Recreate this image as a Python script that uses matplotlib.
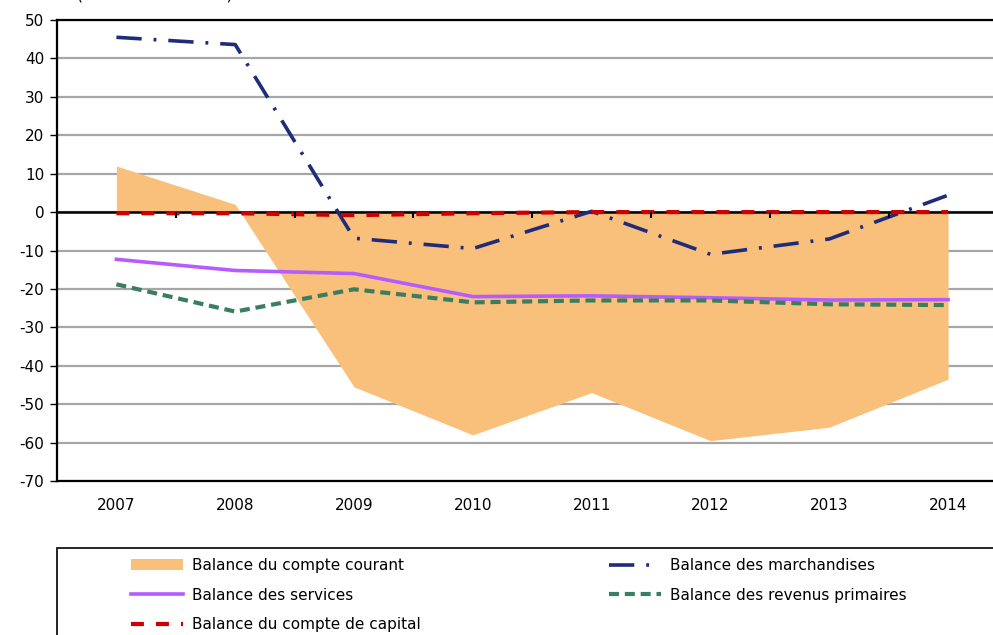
import matplotlib
matplotlib.use("Agg")
import matplotlib.pyplot as plt
from matplotlib.patches import Rectangle

plt.rcParams['font.family'] = ['DejaVu Sans']
plt.rcParams['axes.unicode_minus'] = False

# données
annees = ['2007', '2008', '2009', '2010', '2011', '2012', '2013', '2014']
compte_courant = [12.0, 2.0, -45.5, -58.0, -47.0, -59.5, -56.0, -43.5]
marchandises = [45.5, 43.6, -6.8, -9.5, 0.2, -11.0, -7.0, 4.4]
services = [-12.3, -15.2, -16.0, -22.0, -21.8, -22.3, -22.9, -22.8]
revenus_primaires = [-18.8, -25.9, -20.1, -23.5, -23.0, -23.0, -24.0, -24.2]
compte_capital = [-0.3, -0.3, -0.8, -0.3, 0.0, 0.0, 0.0, 0.0]
y_ticks = list(range(-70, 51, 10))

x = list(range(len(annees)))

fig = plt.figure(figsize=(9.93, 6.35), dpi=100)
ax = fig.add_axes([57/993, 1-481/635, (1007.5-57)/993, (481-20)/635])

ax.fill_between(x, compte_courant, 0, color='#F9C07C', linewidth=0, zorder=2,
                label='Balance du compte courant')
ax.plot(x, marchandises, color='#1F2C78', lw=2.6, dashes=(7, 3.3, 0.8, 3.3),
        zorder=5, label='Balance des marchandises')
ax.plot(x, services, color='#B65BFF', lw=2.6, zorder=4,
        label='Balance des services')
ax.plot(x, revenus_primaires, color='#3A7D5F', lw=3, dashes=(2.4, 1.4),
        zorder=4, label='Balance des revenus primaires')
ax.plot(x, compte_capital, color='#CC0000', lw=3, dashes=(3.1, 2.9),
        zorder=6, label='Balance du compte de capital')

ax.set_xlim(-0.5, len(annees) - 0.5)
ax.set_ylim(-70, 50)
ax.set_yticks(y_ticks)
ax.set_yticklabels([str(v) for v in y_ticks])
ax.set_xticks(x)
ax.set_xticklabels(annees)
ax.tick_params(axis='x', length=0, pad=12, labelsize=11)
ax.tick_params(axis='y', length=5, width=1, direction='out', pad=4, labelsize=11)

ax.yaxis.grid(True, color='#A6A6A6', lw=1.6, zorder=1)
ax.set_axisbelow(True)
for s in ['left', 'bottom', 'top']:
    ax.spines[s].set_color('black')
    ax.spines[s].set_linewidth(1.6)
ax.spines['right'].set_visible(False)

# axe des catégories sur la ligne zéro
ax.axhline(0, color='black', lw=1.8, zorder=3)
ymin, ymax = ax.get_ylim()
sec = ax.secondary_xaxis((0 - ymin) / (ymax - ymin))
sec.set_zorder(7)
sec.set_xticks([i + 0.5 for i in x[:-1]], labels=[])
sec.tick_params(axis='x', direction='in', length=4, width=1.5, color='black')
for s in sec.spines.values():
    s.set_visible(False)

# titre (coupé en haut comme sur l'original)
fig.text(77/993, 1.0, '(Milliards de dollars)', fontsize=11,
         va='baseline', ha='left')

# légende
fig.patches.append(Rectangle((57/993, -0.1), 1.0, 0.1 + 1 - 548/635,
                             transform=fig.transFigure, fill=False,
                             edgecolor='black', lw=1.2))
h_all, lab_all = ax.get_legend_handles_labels()
d = dict(zip(lab_all, h_all))
noms = ['Balance du compte courant', 'Balance des services',
        'Balance du compte de capital', 'Balance des marchandises',
        'Balance des revenus primaires']
fig.legend([d[n] for n in noms], noms, ncol=2, frameon=False,
           loc='upper left', bbox_to_anchor=(125/993, 1 - 552/635),
           fontsize=11, handlelength=3.4, handletextpad=0.6,
           labelspacing=0.95, columnspacing=12.3, borderaxespad=0)

fig.savefig('out.png', dpi=100)
